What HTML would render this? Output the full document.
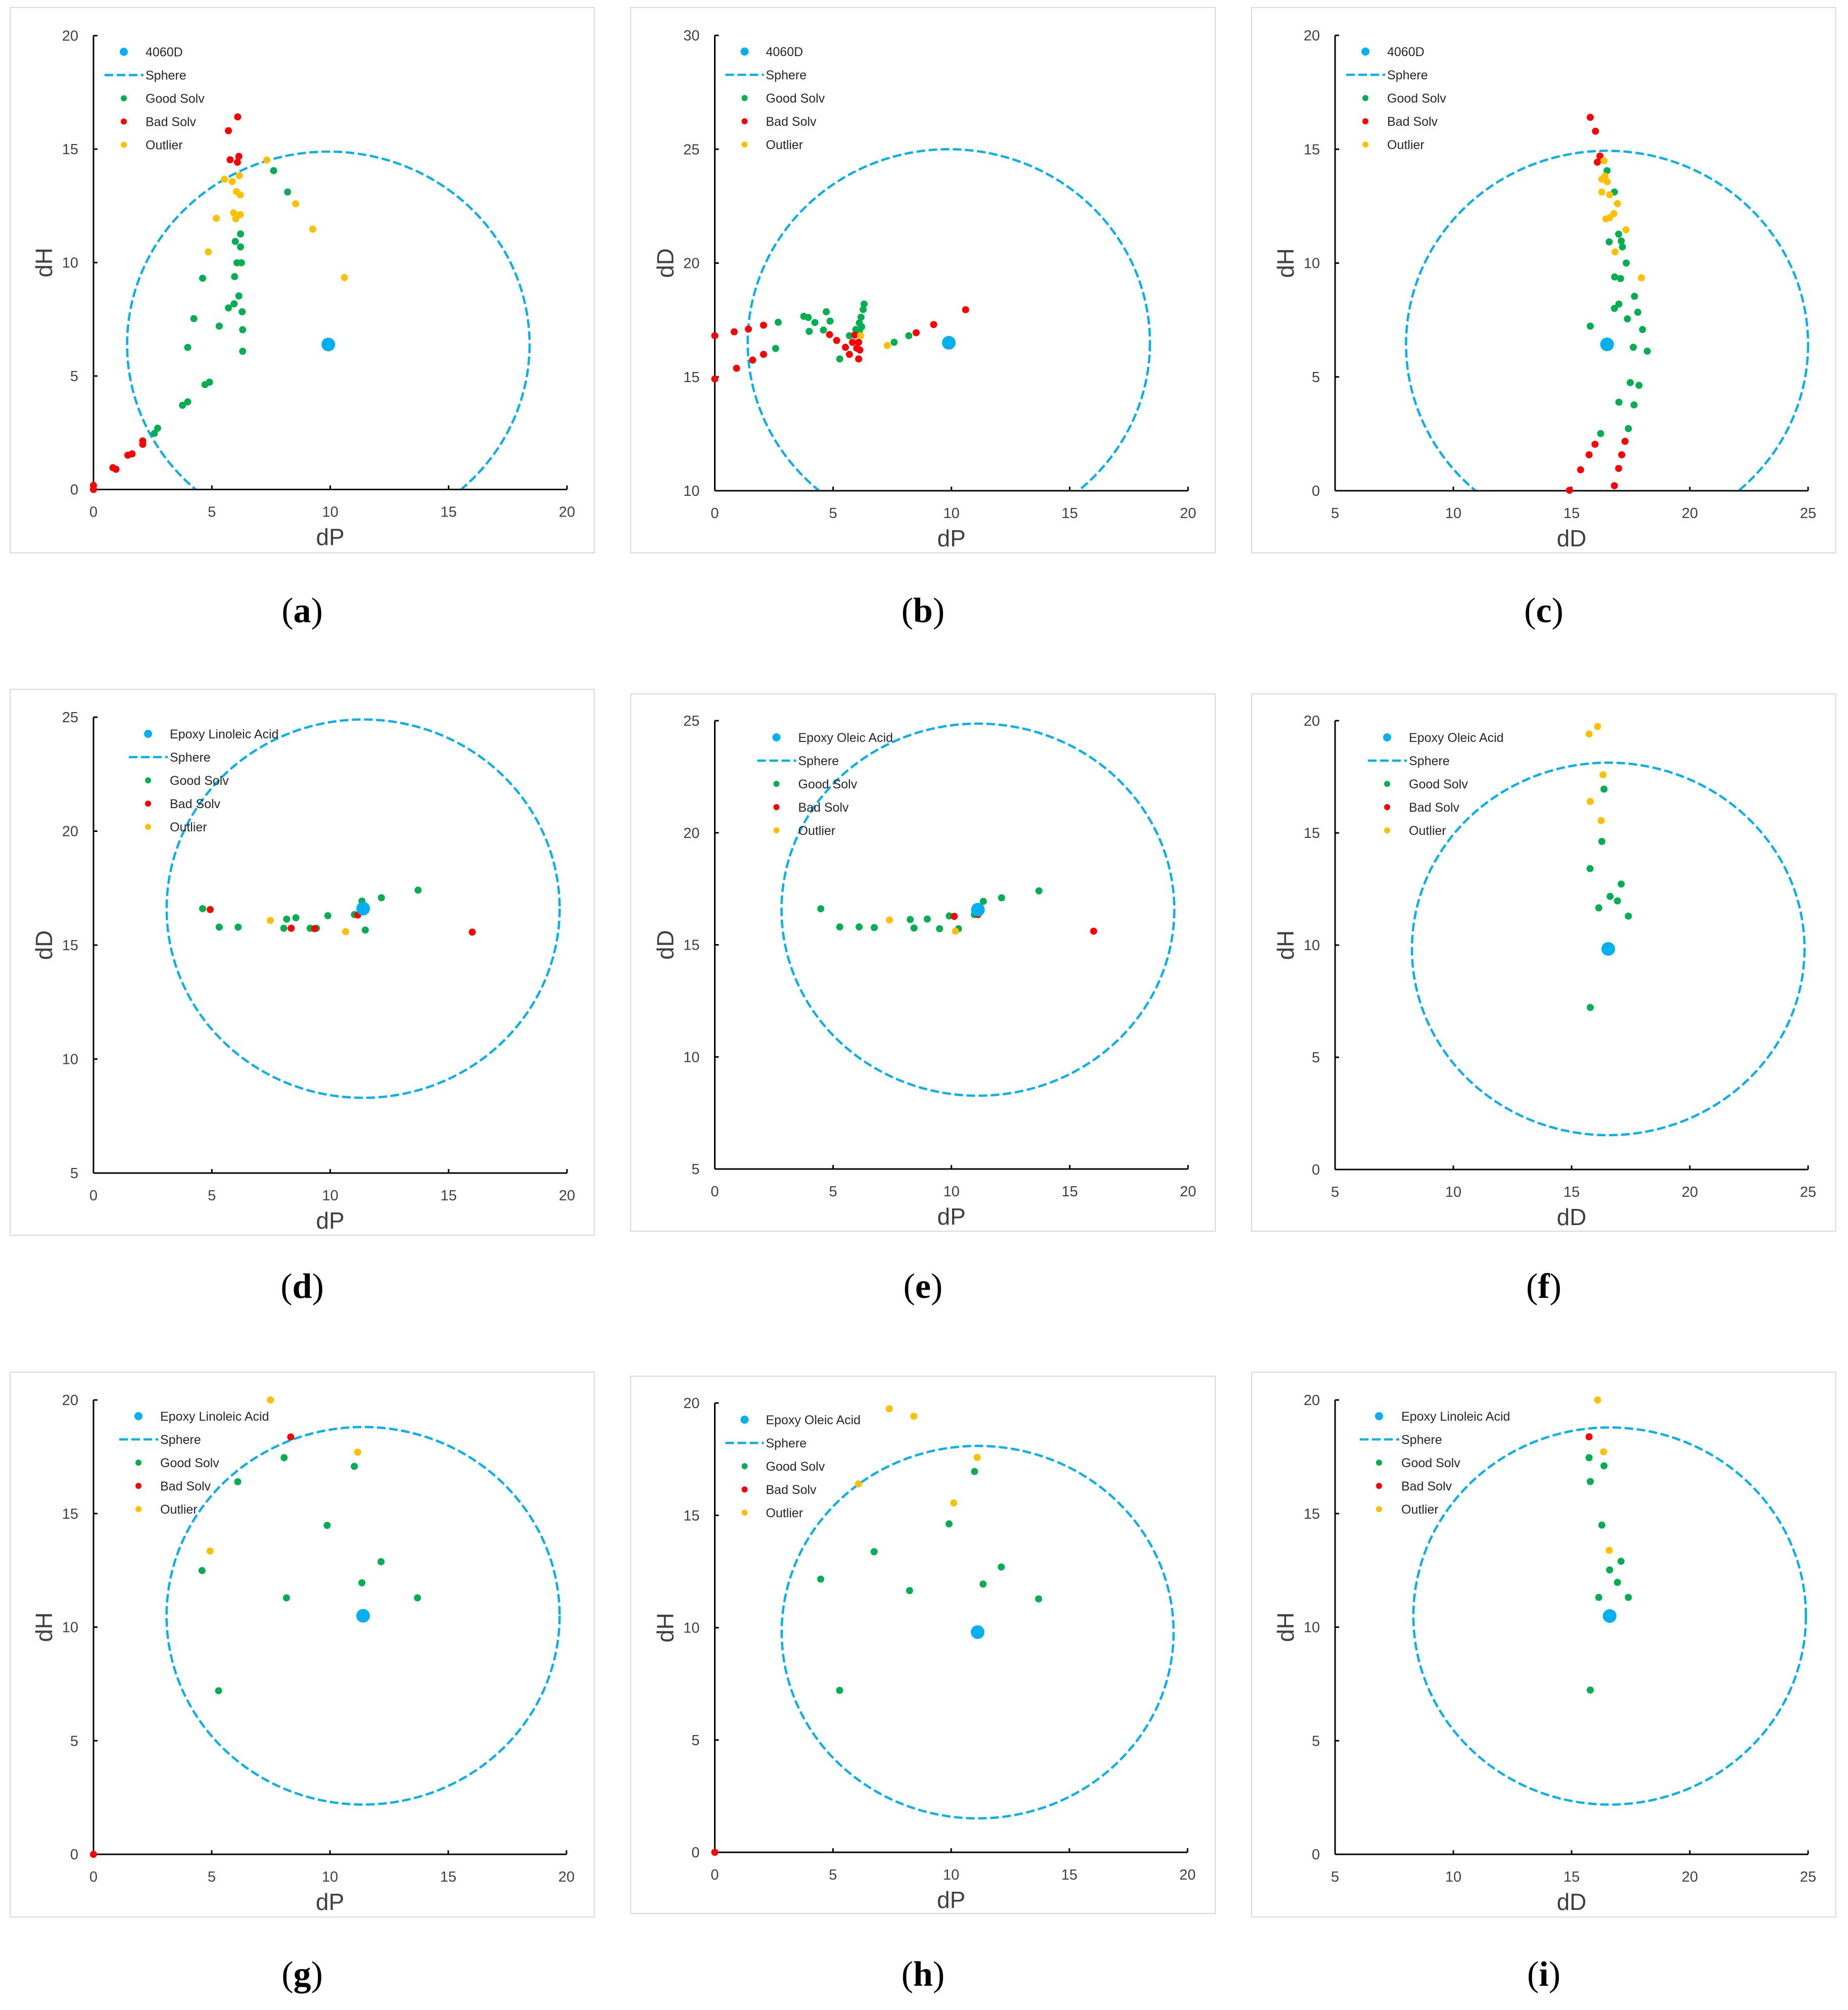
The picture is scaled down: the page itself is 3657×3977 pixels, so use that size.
<!DOCTYPE html>
<html><head><meta charset="utf-8"><style>
html,body{margin:0;padding:0;background:#fff;}
svg{display:block;font-family:"Liberation Sans",sans-serif;}
</style></head><body>
<svg id="fig" width="3657" height="3977" viewBox="0 0 3657 3977" xmlns="http://www.w3.org/2000/svg"></svg>
<script>
// ---- data ----
const aCenter=[9.92,6.39], aRadius=8.5;
const aGood=[[7.61,14.05],[8.20,13.11],[6.21,11.26],[5.99,10.93],[6.21,10.69],[6.06,9.99],[6.25,9.99],[4.61,9.31],[5.96,9.38],[6.14,8.53],[5.94,8.18],[5.70,8.0],[6.28,7.83],[4.24,7.53],[5.31,7.20],[6.30,7.04],[3.98,6.26],[6.30,6.09],[4.71,4.62],[4.90,4.73],[3.76,3.71],[3.98,3.86],[2.57,2.47],[2.71,2.70]];
const aBad=[[6.09,16.42],[5.70,15.81],[6.14,14.68],[5.77,14.53],[6.08,14.42],[0,0.18],[0,0],[0.82,0.96],[0.95,0.89],[1.45,1.51],[1.63,1.57],[2.08,2.14],[2.08,1.99]];
const aOut=[[7.32,14.52],[5.53,13.67],[5.86,13.57],[6.16,13.83],[6.04,13.13],[6.20,12.98],[8.54,12.59],[5.19,11.95],[5.92,12.19],[6.20,12.11],[6.01,11.93],[9.26,11.47],[4.85,10.47],[10.6,9.34]];

const bCenter=[9.89,16.5], bRadius=8.5;
const bGood=[[2.68,17.40],[2.57,16.25],[3.76,17.66],[3.95,17.61],[4.23,17.39],[3.99,17.0],[4.59,17.06],[4.71,17.86],[4.87,17.45],[5.28,15.79],[5.69,16.81],[6.31,18.20],[6.27,17.96],[6.18,17.62],[6.11,17.37],[6.21,17.20],[6.11,17.0],[5.96,17.08],[7.58,16.52],[8.20,16.81]];
const bBad=[[0,16.81],[0,14.91],[0.82,16.98],[0.92,15.38],[1.42,17.10],[1.60,15.74],[2.06,17.27],[2.06,15.99],[4.85,16.86],[5.15,16.60],[5.52,16.30],[5.69,15.99],[5.92,16.84],[5.82,16.52],[6.08,16.52],[6.13,16.18],[6.08,15.79],[6.0,16.26],[8.51,16.94],[9.25,17.30],[10.6,17.95]];
const bOut=[[7.29,16.38],[6.16,16.81]];

const cCenter=[16.5,6.43], cRadius=8.5;
const cGood=[[16.50,14.06],[16.81,13.12],[16.99,11.27],[16.59,10.93],[17.10,10.97],[17.15,10.71],[17.31,10.0],[16.82,9.39],[17.07,9.32],[17.66,8.54],[17.0,8.2],[16.81,8.01],[17.80,7.84],[17.36,7.55],[15.79,7.23],[18.0,7.08],[17.61,6.30],[18.20,6.13],[17.48,4.75],[17.85,4.63],[17.0,3.89],[17.64,3.77],[17.40,2.73],[16.23,2.51]];
const cBad=[[15.79,16.40],[16.01,15.79],[16.20,14.70],[16.09,14.43],[15.99,2.04],[15.74,1.58],[15.38,0.92],[14.91,0.02],[17.26,2.17],[17.12,1.58],[16.99,0.98],[16.81,0.22]];
const cOut=[[16.37,14.50],[16.28,13.68],[16.41,13.82],[16.51,13.57],[16.28,13.12],[16.61,13.0],[16.94,12.61],[16.79,12.17],[16.45,11.94],[16.61,11.99],[17.30,11.46],[16.84,10.49],[17.95,9.35]];

const dCenter=[11.39,16.6], dRadius=8.3;
const dGood=[[4.61,16.6],[5.31,15.79],[6.11,15.79],[8.04,15.74],[8.16,16.14],[8.55,16.2],[9.15,15.74],[9.42,15.74],[9.90,16.29],[11.02,16.34],[11.34,16.93],[11.48,15.66],[12.16,17.08],[13.71,17.41]];
const dBad=[[4.93,16.56],[8.35,15.74],[9.34,15.72],[11.16,16.32],[16.0,15.57]];
const dOut=[[7.47,16.08],[10.65,15.59]];

const eCenter=[11.12,16.57], eRadius=8.3;
const eGood=[[4.48,16.61],[5.28,15.80],[6.10,15.80],[6.74,15.77],[8.26,16.13],[8.42,15.75],[8.98,16.15],[9.50,15.72],[9.91,16.29],[10.30,15.72],[10.97,16.35],[11.35,16.94],[12.12,17.1],[13.70,17.41]];
const eBad=[[10.12,16.27],[11.12,16.35],[16.01,15.61]];
const eOut=[[7.38,16.11],[10.17,15.61]];

const fCenter=[16.55,9.83], fRadius=8.3;
const fGood=[[16.37,16.95],[16.28,14.62],[15.78,13.41],[17.10,12.72],[16.63,12.17],[16.94,11.97],[16.15,11.66],[17.40,11.29],[15.79,7.22]];
const fBad=[];
const fOut=[[15.74,19.41],[16.10,19.74],[16.33,17.59],[15.79,16.40],[16.25,15.55]];

const gCenter=[11.40,10.5], gRadius=8.31;
const gGood=[[8.06,17.46],[11.03,17.08],[6.10,16.40],[9.88,14.48],[4.59,12.49],[12.16,12.88],[11.35,11.95],[8.16,11.29],[13.70,11.29],[5.29,7.20]];
const gBad=[[8.34,18.37],[0,0]];
const gOut=[[7.48,20.0],[11.17,17.70],[4.93,13.35]];

const hCenter=[11.12,9.8], hRadius=8.29;
const hGood=[[10.99,16.95],[9.91,14.62],[6.74,13.38],[4.48,12.16],[12.12,12.70],[8.24,11.65],[11.35,11.94],[13.70,11.28],[5.28,7.21]];
const hBad=[[0,0]];
const hOut=[[7.38,19.74],[8.42,19.41],[11.10,17.58],[6.08,16.40],[10.11,15.55]];

const iCenter=[16.61,10.49], iRadius=8.3;
const iGood=[[15.74,17.46],[16.37,17.10],[15.79,16.41],[16.28,14.49],[17.09,12.90],[16.61,12.52],[16.94,11.97],[16.15,11.31],[17.40,11.31],[15.79,7.23]];
const iBad=[[15.74,18.38]];
const iOut=[[16.10,20.0],[16.35,17.72],[16.59,13.38]];

const xTicksP=[0,5,10,15,20];
const xTicksD=[5,10,15,20,25];
const yTicksH=[0,5,10,15,20];
const yTicksD25=[5,10,15,20,25];
const yTicksD30=[10,15,20,25,30];

// ---- layout ----
const panels=[
 {id:'a',fr:[20,15,1156,1079],ax:[185,1122,70.5,968.5],xd:[0,20],yd:[0,20],xt:xTicksP,yt:yTicksH,xl:'dP',yl:'dH',name:'4060D',lg:[60,103,32],lab:1207,c:aCenter,r:aRadius,g:aGood,b:aBad,o:aOut},
 {id:'b',fr:[1248,15,1157,1079],ax:[1414.5,2351,70,971],xd:[0,20],yd:[10,30],xt:xTicksP,yt:yTicksD30,xl:'dP',yl:'dD',name:'4060D',lg:[59,101,32],lab:1207,c:bCenter,r:bRadius,g:bGood,b:bBad,o:bOut},
 {id:'c',fr:[2477,15,1156,1079],ax:[2642,3578,70,971],xd:[5,25],yd:[0,20],xt:xTicksD,yt:yTicksH,xl:'dD',yl:'dH',name:'4060D',lg:[60,103,32],lab:1207,c:cCenter,r:cRadius,g:cGood,b:cBad,o:cOut},
 {id:'d',fr:[20,1364,1156,1080],ax:[185,1122,1419,2321],xd:[0,20],yd:[5,25],xt:xTicksP,yt:yTicksD25,xl:'dP',yl:'dD',name:'Epoxy Linoleic Acid',lg:[108,151,33],lab:2544,c:dCenter,r:dRadius,g:dGood,b:dBad,o:dOut},
 {id:'e',fr:[1248,1373,1157,1063],ax:[1414.5,2351,1426,2313],xd:[0,20],yd:[5,25],xt:xTicksP,yt:yTicksD25,xl:'dP',yl:'dD',name:'Epoxy Oleic Acid',lg:[122,165,33],lab:2544,c:eCenter,r:eRadius,g:eGood,b:eBad,o:eOut},
 {id:'f',fr:[2477,1373,1156,1063],ax:[2642,3578,1426,2314],xd:[5,25],yd:[0,20],xt:xTicksD,yt:yTicksH,xl:'dD',yl:'dH',name:'Epoxy Oleic Acid',lg:[103,146,33],lab:2544,c:fCenter,r:fRadius,g:fGood,b:fBad,o:fOut},
 {id:'g',fr:[20,2715,1156,1078],ax:[185,1121,2770,3669],xd:[0,20],yd:[0,20],xt:xTicksP,yt:yTicksH,xl:'dP',yl:'dH',name:'Epoxy Linoleic Acid',lg:[89,132,32],lab:3905,c:gCenter,r:gRadius,g:gGood,b:gBad,o:gOut},
 {id:'h',fr:[1248,2723,1157,1063],ax:[1414.5,2350,2776,3665],xd:[0,20],yd:[0,20],xt:xTicksP,yt:yTicksH,xl:'dP',yl:'dH',name:'Epoxy Oleic Acid',lg:[59,101,33],lab:3905,c:hCenter,r:hRadius,g:hGood,b:hBad,o:hOut},
 {id:'i',fr:[2477,2715,1156,1078],ax:[2642,3578,2770,3669],xd:[5,25],yd:[0,20],xt:xTicksD,yt:yTicksH,xl:'dD',yl:'dH',name:'Epoxy Linoleic Acid',lg:[87,131,32],lab:3905,c:iCenter,r:iRadius,g:iGood,b:iBad,o:iOut}
];
const NS='http://www.w3.org/2000/svg';
const svg=document.getElementById('fig');
function mk(tag,attrs,parent){const e=document.createElementNS(NS,tag);for(const k in attrs)e.setAttribute(k,attrs[k]);(parent||svg).appendChild(e);return e;}
const BLUE='#00B0F0',GREEN='#00B050',RED='#FF0000',YEL='#FFC000',TXT='#404040';

panels.forEach(p=>{
 const G=mk('g',{});
 
 
 const [x0,x1,yT,yB]=p.ax;
 const sx=v=>x0+(v-p.xd[0])/(p.xd[1]-p.xd[0])*(x1-x0);
 const sy=v=>yB-(v-p.yd[0])/(p.yd[1]-p.yd[0])*(yB-yT);
 const fr=mk('rect',{x:p.fr[0],y:p.fr[1],width:p.fr[2],height:p.fr[3],fill:'#fff',stroke:'#D9D9D9','stroke-width':2},G);
 
 
 const cx=sx(p.c[0]),cy=sy(p.c[1]);
 const rx=sx(p.c[0]+p.r)-cx, ry=cy-sy(p.c[1]+p.r);
 const cp=mk('clipPath',{id:'clip'+p.id},G);
 mk('rect',{x:x0,y:p.fr[1],width:p.fr[0]+p.fr[2]-x0,height:yB-p.fr[1]},cp);
 const sph=mk('ellipse',{cx:cx,cy:cy,rx:rx,ry:ry,fill:'none',stroke:BLUE,'stroke-width':4.5,'stroke-dasharray':'17 7','clip-path':'url(#clip'+p.id+')'},G);
 
 
 const xa=mk('line',{x1:x0,y1:yB,x2:x1,y2:yB,stroke:'#000','stroke-width':3},G);
 
 
 const ya=mk('line',{x1:x0,y1:yB,x2:x0,y2:yT,stroke:'#000','stroke-width':3},G);
 
 
 p.xt.forEach(t=>{
  const X=sx(t);
  mk('line',{x1:X,y1:yB,x2:X,y2:yB-8,stroke:'#000','stroke-width':3},G);
  const tx=mk('text',{x:X,y:yB+54,'text-anchor':'middle','font-size':29,fill:TXT},G);
  tx.textContent=t;
  
  
 });
 p.yt.forEach(t=>{
  const Y=sy(t);
  mk('line',{x1:x0,y1:Y,x2:x0+8,y2:Y,stroke:'#000','stroke-width':3},G);
  const tx=mk('text',{x:x0-30,y:Y+10,'text-anchor':'end','font-size':29,fill:TXT},G);
  tx.textContent=t;
  
  
 });
 const xt=mk('text',{x:(x0+x1)/2,y:yB+110,'text-anchor':'middle','font-size':46,fill:TXT},G);
 xt.textContent=p.xl;
 
 
 const ym=(yT+yB)/2;
 const yt=mk('text',{x:x0-82,y:ym,'text-anchor':'middle','font-size':46,fill:TXT,transform:'rotate(-90 '+(x0-82)+' '+ym+')'},G);
 yt.textContent=p.yl;
 
 
 const dot=(arr,col,nm)=>arr.forEach(d=>{
  const c=mk('circle',{cx:sx(d[0]),cy:sy(d[1]),r:7,fill:col},G);
  
  
 });
 dot(p.g,GREEN,'good-solvent-point');
 dot(p.b,RED,'bad-solvent-point');
 dot(p.o,YEL,'outlier-point');
 const cen=mk('circle',{cx:cx,cy:cy,r:13.5,fill:BLUE},G);
 
 
 const mx=x0+p.lg[0], txx=x0+p.lg[1];
 const labels=[p.name,'Sphere','Good Solv','Bad Solv','Outlier'];
 const cols=[BLUE,null,GREEN,RED,YEL];
 labels.forEach((l,k)=>{
  const Y=yT+p.lg[2]+k*46;
  if(k===1){
   const ln=mk('line',{x1:mx-38,y1:Y,x2:txx-4,y2:Y,stroke:BLUE,'stroke-width':4.5,'stroke-dasharray':'17 7'},G);
   
   
  } else {
   const c=mk('circle',{cx:mx,cy:Y,r:k===0?8:6,fill:cols[k]},G);
   
   
  }
  const t=mk('text',{x:txx,y:Y+9,'font-size':25,fill:'#262626'},G);
  t.textContent=l;
  
  
 });
 const lab=mk('text',{x:p.fr[0]+p.fr[2]/2,y:p.lab+24,'text-anchor':'middle','font-size':70,'font-family':'"Liberation Serif",serif',fill:'#000'},G);
 lab.innerHTML='(<tspan font-weight="bold">'+p.id+'</tspan>)';
 
 
});
</script>
</body></html>
